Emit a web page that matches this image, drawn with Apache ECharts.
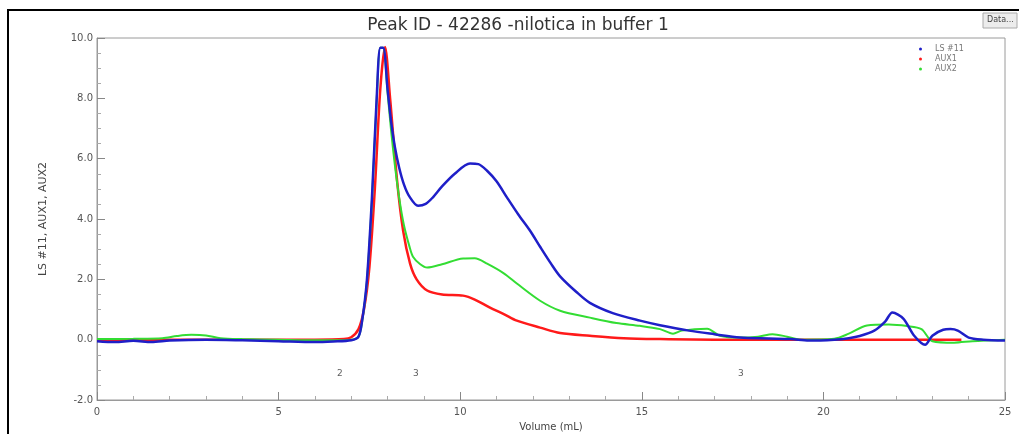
<!DOCTYPE html>
<html>
<head>
<meta charset="utf-8">
<script src="https://cdn.jsdelivr.net/npm/echarts@6/dist/echarts.min.js"></script>
<style>
  html, body {margin: 0; padding: 0; background: #fff;}
  #main {width: 1019px; height: 434px;}
</style>
</head>
<body>
<div id="main"></div>
<script>
// LS #11 (blue)
var lsVol = [0, 0.5, 1, 1.5, 2, 3, 4, 5, 6, 6.5, 7.0, 7.2, 7.3, 7.43, 7.57, 7.7, 7.8, 7.88, 8.0, 8.1, 8.2, 8.32, 8.45, 8.6, 8.84,
  9.05, 9.25, 9.5, 9.85, 10.27, 10.5, 10.74, 11.0, 11.29, 11.6, 11.92, 12.2, 12.5, 12.75, 13.2, 13.57, 14.2, 14.95, 15.5, 16.3,
  17.0, 17.7, 18.5, 19.1, 19.6, 20.3, 20.7, 21.0, 21.4, 21.7, 21.9, 22.2, 22.5, 22.8, 23.0, 23.3, 23.5, 23.7, 24.0, 24.4, 25];
var lsVal = [-0.05, -0.08, -0.04, -0.08, -0.03, 0, -0.02, -0.05, -0.08, -0.06, -0.02, 0.1, 0.63, 1.96, 4.7, 8.0, 9.68, 9.68,
  8.3, 7.2, 6.4, 5.7, 5.15, 4.75, 4.44, 4.5, 4.72, 5.08, 5.5, 5.84, 5.82, 5.6, 5.25, 4.71, 4.15, 3.62, 3.08, 2.52, 2.1, 1.58,
  1.22, 0.88, 0.63, 0.48, 0.3, 0.18, 0.07, 0.04, 0.02, -0.03, 0, 0.05, 0.12, 0.3, 0.6, 0.9, 0.7, 0.13, -0.17, 0.13, 0.33, 0.35,
  0.3, 0.07, 0, -0.03];

// AUX1 (red)
var aux1Vol = [0, 2, 4, 6, 6.8, 7.0, 7.2, 7.35, 7.5, 7.65, 7.8, 7.93, 8.07, 8.26, 8.43, 8.62, 8.8, 9.09, 9.5, 10.08, 10.4,
  10.82, 11.2, 11.56, 12.2, 12.75, 13.57, 14.5, 15.5, 17, 20, 23.8];
var aux1Val = [0, 0, 0, 0, 0.02, 0.08, 0.35, 1.0, 2.4, 5.0, 8.3, 9.7, 8.0, 5.3, 3.6, 2.52, 2.0, 1.63, 1.5, 1.46, 1.33,
  1.06, 0.85, 0.63, 0.4, 0.22, 0.13, 0.05, 0.02, 0, 0, 0];

// AUX2 (green)
var aux2Vol = [0, 1, 1.8, 2.2, 2.6, 3.0, 3.4, 4, 5, 6, 6.5, 7.0, 7.2, 7.3, 7.43, 7.57, 7.7, 7.8, 7.88, 8.0, 8.1, 8.2,
  8.32, 8.45, 8.6, 8.7, 8.9, 9.09, 9.5, 10.08, 10.4, 10.74, 11.2, 11.56, 12.2, 12.75, 13.57, 14.3, 14.95, 15.5, 15.86,
  16.1, 16.8, 17.15, 17.7, 18.2, 18.6, 19.0, 19.4, 20.3, 20.7, 21.2, 21.8, 22.3, 22.7, 23.0, 23.6, 24.1, 25];
var aux2Val = [0.02, 0.03, 0.05, 0.12, 0.16, 0.14, 0.05, 0.02, 0, -0.02, -0.02, 0, 0.1, 0.6, 1.9, 4.6, 7.9, 9.68, 9.68,
  8.2, 6.9, 5.8, 4.7, 3.8, 3.1, 2.75, 2.5, 2.39, 2.5, 2.69, 2.7, 2.52, 2.2, 1.86, 1.29, 0.96, 0.73, 0.55, 0.46, 0.35, 0.2,
  0.3, 0.36, 0.13, 0.07, 0.1, 0.18, 0.1, 0, 0.03, 0.2, 0.47, 0.5, 0.45, 0.35, -0.05, -0.1, -0.05, 0];

// peak markers under the curves
var markVol = [6.69, 8.78, 17.73];
var markVal = [-1.13, -1.13, -1.13];
var markText = ['2', '3', '3'];

function pairs(xs, ys) {
  var out = [];
  for (var i = 0; i < xs.length; i++) {
    out.push([xs[i], ys[i]]);
  }
  return out;
}

var markData = [];
for (var k = 0; k < markVol.length; k++) {
  markData.push({value: [markVol[k], markVal[k]], name: markText[k]});
}

var axisGray = '#9a9a9a';
var chart = echarts.init(document.getElementById('main'));
chart.setOption({
  animation: false,
  textStyle: {fontFamily: 'DejaVu Sans'},
  title: {
    text: 'Peak ID - 42286 -nilotica in buffer 1',
    left: 513,
    top: 12,
    textAlign: 'center',
    textStyle: {fontSize: 17, fontWeight: 'normal', color: '#333'}
  },
  legend: {
    data: ['LS #11', 'AUX1', 'AUX2'],
    orient: 'vertical',
    left: 914,
    top: 40,
    icon: 'circle',
    itemWidth: 3,
    itemHeight: 3,
    itemGap: 2,
    textStyle: {fontSize: 8, color: '#777', padding: [0, 0, 0, 8]}
  },
  grid: {
    left: 97, right: 14, top: 38, bottom: 34,
    outerBoundsMode: 'none',
    show: true,
    borderColor: axisGray,
    borderWidth: 1
  },
  xAxis: {
    type: 'value',
    min: 0, max: 25, interval: 5,
    name: 'Volume (mL)',
    nameLocation: 'middle',
    nameGap: 22,
    nameTextStyle: {fontSize: 10, color: '#444'},
    axisLine: {onZero: false, lineStyle: {color: axisGray}},
    axisTick: {inside: true, length: 8, lineStyle: {color: '#888'}},
    minorTick: {show: true, splitNumber: 5, length: 4, lineStyle: {color: '#aaa'}},
    axisLabel: {fontSize: 10, color: '#555', margin: 7},
    splitLine: {show: false}
  },
  yAxis: {
    type: 'value',
    min: -2, max: 10, interval: 2,
    name: 'LS #11, AUX1, AUX2',
    nameLocation: 'middle',
    nameGap: 48,
    nameTextStyle: {fontSize: 11, color: '#444'},
    axisLine: {show: true, onZero: false, lineStyle: {color: axisGray}},
    axisTick: {show: true, inside: true, length: 8, lineStyle: {color: '#888'}},
    minorTick: {show: true, splitNumber: 4, length: 4, lineStyle: {color: '#aaa'}},
    axisLabel: {
      fontSize: 10, color: '#555', margin: 4,
      formatter: function (v) { return v.toFixed(1); }
    },
    splitLine: {show: false}
  },
  graphic: [
    {
      type: 'rect',
      shape: {x: 8, y: 10, width: 1030, height: 440},
      style: {fill: 'none', stroke: '#000', lineWidth: 2},
      silent: true
    },
    {
      type: 'rect',
      shape: {x: 983, y: 13, width: 34, height: 15},
      style: {fill: '#ececec', stroke: '#aaa', lineWidth: 1}
    },
    {
      type: 'text',
      left: 987,
      top: 16,
      style: {text: 'Data...', fontSize: 8, fill: '#444', fontFamily: 'DejaVu Sans'}
    }
  ],
  series: [
    {
      name: 'AUX1',
      type: 'line',
      data: pairs(aux1Vol, aux1Val),
      smooth: 0.3,
      showSymbol: false,
      color: '#ff1a1a',
      lineStyle: {width: 2.5},
      z: 2
    },
    {
      name: 'AUX2',
      type: 'line',
      data: pairs(aux2Vol, aux2Val),
      smooth: 0.3,
      showSymbol: false,
      color: '#33dd33',
      lineStyle: {width: 2},
      z: 3
    },
    {
      name: 'LS #11',
      type: 'line',
      data: pairs(lsVol, lsVal),
      smooth: 0.3,
      showSymbol: false,
      color: '#1f1fc8',
      lineStyle: {width: 2.5},
      z: 4
    },
    {
      name: 'marks',
      type: 'scatter',
      data: markData,
      symbolSize: 0,
      label: {
        show: true,
        position: 'inside',
        formatter: '{b}',
        fontSize: 9,
        color: '#333'
      },
      z: 5
    }
  ]
});
</script>
</body>
</html>
